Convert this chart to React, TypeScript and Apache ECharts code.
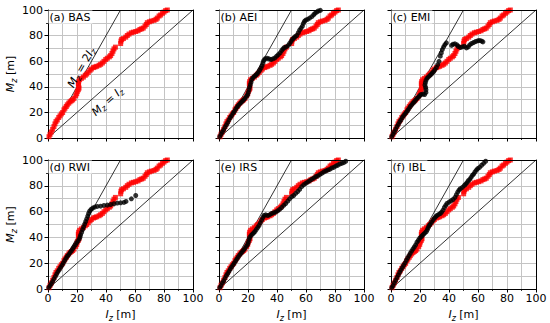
import React, { useEffect, useRef } from "react";
import * as echarts from "echarts";

const FONT = "DejaVu Sans";

const PANEL_TITLES = ["(a) BAS", "(b) AEI", "(c) EMI", "(d) RWI", "(e) IRS", "(f) IBL"];

const LINE_1TO1 = [[0, 0], [100, 100]];
const LINE_2TO1 = [[0, 0], [50, 100]];

// Reference profile (red), shown in every panel: [Iz, Mz]
const BAS = [
  [0.7, 1.0], [1.4, 2.9], [2.3, 4.7], [3.2, 6.8], [4.1, 8.9], [4.8, 11.0], [5.5, 12.8], [6.4, 14.1],
  [7.4, 16.0], [8.3, 17.3], [9.2, 18.8], [10.1, 19.9], [11.0, 22.0], [11.7, 23.3], [12.6, 24.6],
  [13.3, 25.9], [14.3, 27.2], [15.2, 28.3], [16.1, 29.1], [17.0, 29.8], [17.9, 30.9], [19.1, 33.0],
  [19.8, 34.6], [20.2, 36.4], [20.9, 37.7], [21.4, 39.0], [21.1, 40.8], [20.9, 42.4], [21.1, 44.0],
  [21.8, 45.5], [23.0, 46.6], [24.4, 47.6], [25.7, 49.0], [26.7, 50.0], [27.8, 51.3], [29.0, 52.9],
  [29.9, 53.9], [31.3, 55.0], [32.4, 55.5], [33.6, 56.0], [35.2, 56.8], [36.3, 57.6], [37.5, 58.6],
  [38.6, 59.9], [39.8, 61.3], [40.9, 62.3], [42.3, 63.4], [43.2, 64.4], [44.1, 66.0], [44.8, 67.8],
  [45.5, 69.6], [46.5, 71.0], [50.1, 73.8], [50.3, 75.7], [50.8, 77.0], [52.0, 77.7], [53.6, 78.8],
  [54.7, 80.1], [55.9, 81.2], [57.5, 82.2], [58.9, 82.7], [60.5, 83.2], [62.1, 83.8], [63.4, 84.8],
  [64.6, 85.3], [65.7, 85.9], [66.9, 87.4], [67.8, 88.7], [68.5, 90.1], [69.9, 90.8], [71.3, 91.4],
  [73.1, 91.9], [74.5, 92.7], [75.4, 93.7], [76.6, 95.3], [77.7, 96.1], [78.9, 97.4], [80.0, 98.4],
  [81.1, 99.5], [82.3, 100],
];

const AEI = [
  [0.5, 1.0], [1.4, 2.9], [2.3, 4.7], [3.2, 6.3], [4.1, 8.4], [5.1, 10.2], [6.0, 12.0], [6.9, 14.1],
  [7.8, 16.0], [8.7, 17.5], [9.7, 19.4], [10.6, 20.7], [11.5, 22.5], [12.4, 24.1], [13.3, 25.4],
  [14.3, 26.7], [15.2, 27.7], [16.1, 28.8], [17.0, 29.8], [17.9, 30.9], [18.9, 32.5], [19.8, 33.8],
  [20.2, 35.6], [20.7, 37.7], [21.1, 39.8], [21.6, 41.6], [22.1, 43.5], [22.5, 45.5], [23.4, 47.1],
  [24.4, 48.2], [25.3, 49.0], [26.2, 50.0], [27.1, 51.3], [28.0, 52.9], [29.0, 54.7], [29.7, 56.5],
  [30.3, 58.6], [30.8, 60.5], [31.7, 61.8], [33.1, 62.3], [34.5, 61.8], [35.9, 61.3], [37.2, 61.8],
  [38.6, 62.6], [39.8, 63.9], [40.9, 65.2], [42.1, 66.5], [43.2, 68.3], [44.1, 69.6], [45.1, 70.7],
  [46.4, 71.2], [47.8, 72.3], [48.7, 73.8], [49.7, 75.4], [50.6, 77.0], [51.5, 78.0], [52.4, 79.1],
  [53.6, 80.1], [54.7, 82.2], [55.6, 84.3], [56.6, 85.9], [57.5, 87.4], [58.2, 89.5], [58.9, 91.1],
  [59.8, 92.1], [61.1, 92.7], [62.5, 93.7], [64.0, 94.8], [65.3, 96.3], [66.2, 97.4], [67.4, 98.4],
  [68.5, 99.2], [69.9, 99.7],
];

const EMI = [
  [0.5, 1.0], [1.4, 2.9], [2.3, 4.7], [3.2, 6.8], [4.1, 8.9], [5.1, 10.7], [6.0, 12.6], [6.9, 14.1],
  [7.8, 16.0], [8.7, 17.5], [9.7, 18.8], [10.6, 20.2], [11.5, 21.5], [12.4, 23.0], [13.3, 24.6],
  [14.3, 25.9], [15.2, 27.2], [16.1, 28.3], [17.0, 29.6], [17.9, 30.9], [18.9, 31.9], [19.8, 33.0],
  [20.7, 34.0], [22.1, 34.3], [23.2, 34.0], [24.1, 35.6], [24.1, 37.7], [23.9, 39.5], [23.4, 41.4],
  [23.7, 43.2], [24.1, 45.0], [24.8, 46.6], [25.7, 47.6], [26.7, 48.7], [27.6, 49.7], [28.5, 50.8],
  [29.4, 51.8], [30.3, 53.4], [31.3, 55.0], [32.2, 57.3], [33.1, 59.9], [34.0, 63.9], [34.7, 66.5],
  [35.4, 69.1], [36.3, 71.2], [37.2, 73.0], [38.2, 74.3], [41.8, 72.3], [42.8, 73.3], [44.1, 73.6],
  [45.5, 72.8], [46.4, 71.5], [47.8, 70.7], [49.2, 71.2], [50.6, 71.7], [52.0, 70.4], [53.3, 71.2],
  [54.3, 72.8], [55.6, 73.8], [57.0, 74.6], [58.4, 75.4], [59.8, 75.9], [61.1, 76.2], [62.5, 75.7],
  [63.4, 75.1],
];

const RWI = [
  [0.5, 1.0], [1.4, 2.6], [2.3, 4.1], [3.2, 5.9], [4.1, 7.8], [5.1, 9.8], [6.0, 11.7], [6.9, 13.5],
  [7.8, 15.0], [8.7, 16.8], [9.7, 18.4], [10.6, 20.2], [11.5, 22.0], [12.4, 23.8], [13.3, 25.4],
  [14.3, 26.7], [15.2, 28.2], [16.1, 29.5], [17.0, 31.1], [17.9, 32.6], [18.9, 34.2], [19.8, 35.8],
  [20.7, 37.3], [21.6, 38.9], [22.1, 40.4], [22.5, 42.0], [23.2, 44.0], [23.9, 46.1], [24.6, 48.2],
  [25.3, 50.3], [26.0, 52.3], [26.7, 54.4], [27.4, 56.5], [28.0, 58.5], [28.7, 60.4], [29.7, 61.7],
  [30.8, 62.7], [32.2, 63.5], [34.0, 64.0], [36.3, 64.2], [38.6, 64.8], [40.9, 65.0], [43.2, 65.5],
  [45.5, 66.1], [47.8, 66.6], [50.1, 66.8], [52.4, 67.1], [53.8, 67.9], [57.5, 69.9], [60.5, 72.5],
];

const IRS = [
  [0.5, 1.0], [1.4, 2.6], [2.3, 4.7], [3.2, 6.2], [4.1, 8.3], [5.1, 10.4], [6.0, 11.9], [6.9, 13.7],
  [7.8, 15.5], [8.7, 17.1], [9.7, 18.7], [10.6, 20.2], [11.5, 21.8], [12.4, 23.3], [13.3, 24.9],
  [14.3, 26.4], [15.2, 27.7], [16.1, 29.0], [17.0, 30.3], [17.9, 31.6], [18.9, 33.2], [19.8, 34.7],
  [20.2, 36.3], [20.7, 38.3], [21.1, 39.9], [22.1, 41.5], [23.0, 42.5], [23.9, 43.5], [24.8, 44.6],
  [25.7, 46.1], [26.7, 47.7], [27.6, 49.2], [28.5, 51.3], [29.4, 53.4], [30.3, 55.4], [31.0, 57.0],
  [32.2, 57.5], [33.6, 57.0], [34.9, 57.5], [36.3, 58.5], [37.7, 59.1], [39.1, 59.6], [40.5, 60.6],
  [41.8, 61.7], [43.2, 63.2], [44.6, 64.8], [46.0, 66.3], [47.4, 68.1], [48.7, 69.9], [50.1, 71.5],
  [51.5, 72.5], [52.9, 74.1], [54.3, 75.6], [55.6, 77.2], [57.0, 79.3], [58.4, 80.8], [59.8, 81.9],
  [61.1, 82.9], [62.5, 83.9], [63.9, 85.0], [65.3, 86.0], [66.7, 87.0], [68.0, 87.6], [69.4, 88.6],
  [70.8, 89.6], [72.2, 90.7], [73.6, 91.5], [74.9, 92.2], [76.3, 92.7], [77.7, 93.8], [79.1, 94.3],
  [80.5, 95.3], [81.8, 95.9], [83.2, 96.9], [84.6, 97.4], [86.0, 97.9], [87.4, 99.0],
];

const IBL = [
  [0.5, 1.0], [1.4, 2.6], [2.3, 4.7], [3.2, 6.7], [4.1, 8.8], [5.1, 10.9], [6.0, 13.0], [6.9, 14.8],
  [7.8, 16.6], [8.7, 18.4], [9.7, 20.2], [10.6, 22.3], [11.5, 24.1], [12.4, 25.9], [13.3, 27.7],
  [14.3, 29.5], [15.2, 31.1], [16.1, 32.6], [17.0, 34.2], [17.9, 36.3], [18.9, 37.8], [19.8, 39.4],
  [20.7, 40.4], [21.6, 41.5], [22.5, 42.5], [23.4, 43.5], [24.4, 44.6], [25.1, 46.1], [25.7, 47.7],
  [26.4, 49.2], [27.1, 50.3], [28.0, 51.8], [29.0, 53.4], [29.9, 54.9], [30.8, 56.0], [31.7, 57.0],
  [32.9, 57.8], [34.0, 58.5], [34.9, 59.6], [35.9, 61.1], [36.8, 63.2], [37.7, 64.8], [38.6, 66.3],
  [40.0, 67.4], [41.4, 68.4], [42.8, 69.4], [44.1, 71.0], [45.1, 73.1], [46.0, 75.1], [46.9, 76.7],
  [47.8, 77.7], [49.2, 78.8], [50.6, 80.3], [51.5, 81.3], [52.4, 82.4], [53.3, 83.9], [54.3, 85.0],
  [55.2, 86.5], [56.1, 88.1], [57.0, 89.1], [57.9, 90.7], [58.9, 92.2], [59.8, 93.3], [61.1, 94.3],
  [62.5, 95.9], [63.9, 97.4], [65.3, 99.0],
];

const BLACK_SERIES: (number[][] | null)[] = [null, AEI, EMI, RWI, IRS, IBL];

const GRIDS = [
  { left: 48, top: 10, width: 145, height: 128 },
  { left: 219, top: 10, width: 145, height: 128 },
  { left: 391, top: 10, width: 145, height: 128 },
  { left: 48, top: 160, width: 145, height: 129 },
  { left: 219, top: 160, width: 145, height: 129 },
  { left: 391, top: 160, width: 145, height: 129 },
];

const GRID_COLOR = "#c4c4c4";

const richStyles = (size: number, lh: number) => ({
  it: { fontFamily: FONT, fontStyle: "italic", fontSize: size, lineHeight: lh, color: "#000" },
  sub: { fontFamily: FONT, fontStyle: "italic", fontSize: Math.round(size * 0.72), lineHeight: Math.round(size * 0.72), verticalAlign: "bottom", color: "#000" },
  n: { fontFamily: FONT, fontSize: size, lineHeight: lh, color: "#000" },
});

export default function App() {
  const ref = useRef<HTMLDivElement>(null);

  useEffect(() => {
    if (!ref.current) return;
    const chart = echarts.init(ref.current, undefined, { renderer: "svg" });

    const xAxes: any[] = [];
    const yAxes: any[] = [];
    const series: any[] = [];

    GRIDS.forEach((_, i) => {
      const bottomRow = i >= 3;
      const leftCol = i % 3 === 0;
      const common = {
        type: "value",
        gridIndex: i,
        min: 0,
        max: 100,
        interval: 20,
        axisLine: { show: true, onZero: false, lineStyle: { color: "#000", width: 1 } },
        axisTick: { show: true, inside: false, length: 3.5, lineStyle: { color: "#000", width: 1 } },
        minorTick: { show: true, splitNumber: 2, length: 2, lineStyle: { color: "#000", width: 0.8 } },
        splitLine: { show: true, showMinLine: false, showMaxLine: false, lineStyle: { color: GRID_COLOR, width: 1 } },
        minorSplitLine: { show: true, lineStyle: { color: GRID_COLOR, width: 1 } },
      };
      xAxes.push({
        ...common,
        position: "bottom",
        axisLabel: { show: bottomRow, fontSize: 11, fontFamily: FONT, color: "#000", margin: 4 },
        name: bottomRow ? "{it|I}{sub|z}{n| [m]}" : "",
        nameLocation: "middle",
        nameGap: 18,
        nameTextStyle: { fontSize: 11, fontFamily: FONT, color: "#000", rich: richStyles(11, 15) },
      });
      yAxes.push({
        ...common,
        position: "left",
        axisLabel: { show: leftCol, fontSize: 11, fontFamily: FONT, color: "#000", margin: 5 },
        name: leftCol ? "{it|M}{sub|z}{n| [m]}" : "",
        nameLocation: "middle",
        nameGap: 26,
        nameTextStyle: { fontSize: 11, fontFamily: FONT, color: "#000", rich: richStyles(11, 15) },
      });
    });
    // frame (top and right spines)
    GRIDS.forEach((_, i) => {
      const frame = {
        type: "value",
        gridIndex: i,
        min: 0,
        max: 100,
        axisLine: { show: true, onZero: false, lineStyle: { color: "#000", width: 1 } },
        axisTick: { show: false },
        axisLabel: { show: false },
        splitLine: { show: false },
        z: 5,
      };
      xAxes.push({ ...frame, position: "top" });
      yAxes.push({ ...frame, position: "right" });
    });

    GRIDS.forEach((_, i) => {
      const lineBase = {
        type: "line",
        xAxisIndex: i,
        yAxisIndex: i,
        symbol: "none",
        silent: true,
        lineStyle: { color: "#000", width: 0.8 },
        z: 2,
      };
      series.push({ ...lineBase, data: LINE_1TO1 });
      series.push({ ...lineBase, data: LINE_2TO1 });
      series.push({
        type: "scatter",
        xAxisIndex: i,
        yAxisIndex: i,
        data: BAS,
        symbol: "rect",
        symbolSize: 5,
        itemStyle: { color: "#ff0000" },
        z: 3,
      });
      const b = BLACK_SERIES[i];
      if (b) {
        series.push({
          type: "scatter",
          xAxisIndex: i,
          yAxisIndex: i,
          data: b,
          symbol: "circle",
          symbolSize: 5,
          itemStyle: { color: "#000" },
          z: 4,
        });
      }
    });

    const titles = GRIDS.map((g, i) => ({
      text: PANEL_TITLES[i],
      left: g.left + 0.5,
      top: g.top + 0.5,
      padding: [1, 2, 1, 1],
      backgroundColor: "#fff",
      textStyle: { fontSize: 11, fontWeight: "normal", fontFamily: FONT, color: "#000" },
    }));

    chart.setOption({
      animation: false,
      backgroundColor: "#fff",
      grid: GRIDS.map((g) => ({ ...g, containLabel: false })),
      xAxis: xAxes,
      yAxis: yAxes,
      title: titles,
      series,
    });

    // rotated annotations in panel (a)
    const px = (v: number[]) => chart.convertToPixel({ xAxisIndex: 0, yAxisIndex: 0 }, v) as number[];
    const o = px([0, 0]);
    const p2 = px(LINE_2TO1[1]);
    const p1 = px(LINE_1TO1[1]);
    const ang2 = Math.atan2(o[1] - p2[1], p2[0] - o[0]);
    const ang1 = Math.atan2(o[1] - p1[1], p1[0] - o[0]);
    const c2 = px([23, 55]);
    const c1 = px([41, 28.5]);
    const rich = richStyles(11, 14);
    chart.setOption({
      graphic: [
        {
          type: "text",
          x: c2[0],
          y: c2[1],
          rotation: ang2,
          z: 10,
          style: { text: "{it|M}{sub|z}{n| = 2}{it|I}{sub|z}", align: "center", verticalAlign: "middle", rich },
        },
        {
          type: "text",
          x: c1[0],
          y: c1[1],
          rotation: ang1,
          z: 10,
          style: { text: "{it|M}{sub|z}{n| = }{it|I}{sub|z}", align: "center", verticalAlign: "middle", rich },
        },
      ],
    });

    return () => chart.dispose();
  }, []);

  return <div ref={ref} style={{ position: "fixed", left: 0, top: 0, width: 550, height: 323 }} />;
}
